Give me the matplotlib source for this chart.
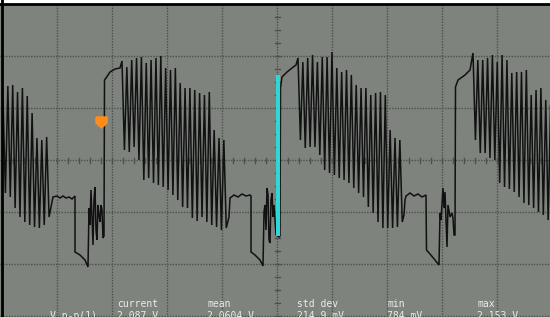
import numpy as np
from matplotlib import pyplot as plt
from matplotlib.path import Path

# ______________________________________________________________________________________________________________________
# Scope capture: record points (x) and screen counts (y, 52 counts per division)

cycle = 4.85  # record points per oscillation inside a burst

burst_starts = [1, 120, 296, 471]
burst_tops = [
    [60, 74, 75, 68, 72, 64, 47, 22, 20, 23],
    [99, 93, 100, 102, 103, 97, 100, 102, 104, 92, 90, 92, 77, 72, 72, 70, 67, 65, 68, 30, 22, 20],
    [102, 98, 102, 105, 98, 103, 103, 108, 92, 88, 90, 85, 75, 72, 72, 65, 67, 68, 65, 30, 22, 20],
    [107, 100, 100, 102, 105, 98, 105, 100, 87, 88, 88, 90, 65, 70, 72, 60, 55],
]
burst_bottoms = [
    [-33, -37, -48, -57, -62, -65, -67, -68, -65, -57],
    [10, 8, 13, 0, -20, -18, -23, -25, -27, -30, -35, -40, -47, -48, -58, -61, -57, -62, -65, -67, -70, -68],
    [20, 12, 13, 13, 5, -10, -13, -15, -18, -20, -23, -28, -33, -37, -47, -53, -62, -68, -68, -68, -67, -62],
    [20, 7, 7, 2, 0, -23, -27, -29, -32, -37, -43, -45, -48, -52, -55, -60, -62],
]

# flat part, drop, ringing and rising edge between two bursts
gap_t = [
    [51, 55, 58, 61, 64, 67, 70, 73, 73, 78, 83, 86, 87, 88, 89, 91, 92, 93, 94, 95, 96, 97, 98, 99, 100, 101,
     102, 102.5, 104, 108, 113, 118],
    [227, 228, 232, 236, 240, 244, 248, 249, 249, 253, 258, 261, 262, 263, 264, 265, 266, 267, 268, 269, 270, 271,
     272, 273, 274, 277, 278, 278.5, 280, 285, 290, 294],
    [402, 403, 404, 408, 412, 416, 420, 424, 424.5, 428, 433, 437, 438, 439, 441, 442, 443, 445, 446, 448, 450, 451,
     452, 453, 453.5, 456, 463, 468],
]
gap_v = [
    [-37, -36, -38, -36, -38, -37, -39, -36, -92, -95, -100, -107, -48, -65, -30, -85, -40, -27, -70, -80, -45, -55,
     -62, -45, -50, -78, -76, 80, 82, 88, 91, 92],
    [-57, -38, -35, -37, -34, -36, -35, -36, -92, -95, -100, -106, -52, -45, -70, -28, -35, -80, -83, -40, -33, -57,
     -45, -60, -75, -77, -76, 72, 83, 88, 92, 95],
    [-55, -40, -36, -33, -36, -34, -37, -35, -90, -94, -100, -105, -53, -60, -28, -48, -32, -87, -45, -57, -53, -58,
     -75, -75, 73, 80, 85, 90],
]

cursor_t = 275.5
cursor_v = [-76, 85]
ground_t, ground_v = 99, 38

stat_names = ["current", "mean", "std dev", "min", "max"]
stat_values = ["2.087 V", "2.0604 V", "214.9 mV", "784 mV", "2.153 V"]
stat_label = "V p-p(1)"

bg = "#7e837e"
grid_c = "#4c514c"


def burst_points(t0, tops, bottoms):
    ts, vs = [], []
    for k, (hi, lo) in enumerate(zip(tops, bottoms)):
        ts += [t0 + k * cycle, t0 + (k + 0.5) * cycle]
        vs += [hi, lo]
    return ts, vs


trace_t, trace_v = [], []
for i in range(len(burst_starts)):
    ts, vs = burst_points(burst_starts[i], burst_tops[i], burst_bottoms[i])
    trace_t += ts
    trace_v += vs
    if i < len(gap_t):
        trace_t += gap_t[i]
        trace_v += gap_v[i]

fig = plt.figure(figsize=(5.5, 3.17), dpi=100)
ax = fig.add_axes([0, 0, 1, 1])
ax.set_facecolor(bg)
ax.set_xlim(-2, 548)
ax.set_ylim(-157, 160)
ax.axis("off")
ax.add_patch(plt.Rectangle((-2, -157), 550, 317, color=bg, zorder=0))

# graticule
for gx in range(0, 551, 55):
    ax.axvline(gx, color=grid_c, lw=1, ls=(0, (1, 1)), zorder=1)
for gy in range(-156, 157, 52):
    ax.axhline(gy, color=grid_c, lw=1, ls=(0, (1, 1)), zorder=1)
for tx in np.arange(0, 551, 11):
    ax.plot([tx, tx], [-2.5, 2.5], color=grid_c, lw=1, zorder=1)
for ty in np.arange(-156, 157, 13):
    ax.plot([272.5, 277.5], [ty, ty], color=grid_c, lw=1, zorder=1)

ax.axhspan(157.5, 160, color="white", zorder=5)
ax.axhline(156.5, color="black", lw=2, zorder=5)
ax.axvline(-0.5, color="black", lw=2, zorder=5)

# waveform and markers
ax.plot(trace_t, trace_v, color="#111111", lw=1.1, zorder=3, solid_joinstyle="miter")
ax.plot([cursor_t, cursor_t], cursor_v, color="#2ed6d6", lw=2.9, zorder=4, solid_capstyle="butt")

marker = Path([(-1, 1), (1, 1), (1, -0.1), (0, -1), (-1, -0.1), (-1, 1)])
ax.plot(ground_t, ground_v, marker=marker, color="#ff8c1a", markersize=8, zorder=4)

# measurement readout (second row is cut by the screen edge, as on the scope)
for i, (name, val) in enumerate(zip(stat_names, stat_values)):
    x = 115 + 90 * i
    ax.text(x, -147, name, color="#ececec", fontsize=7, family="DejaVu Sans Mono", va="baseline", zorder=6)
    ax.text(x, -151, val, color="#ececec", fontsize=7, family="DejaVu Sans Mono", va="top", zorder=6)
ax.text(95, -151, stat_label, color="#ececec", fontsize=7, family="DejaVu Sans Mono", va="top", ha="right", zorder=6)

plt.savefig("out.png", dpi=100)
